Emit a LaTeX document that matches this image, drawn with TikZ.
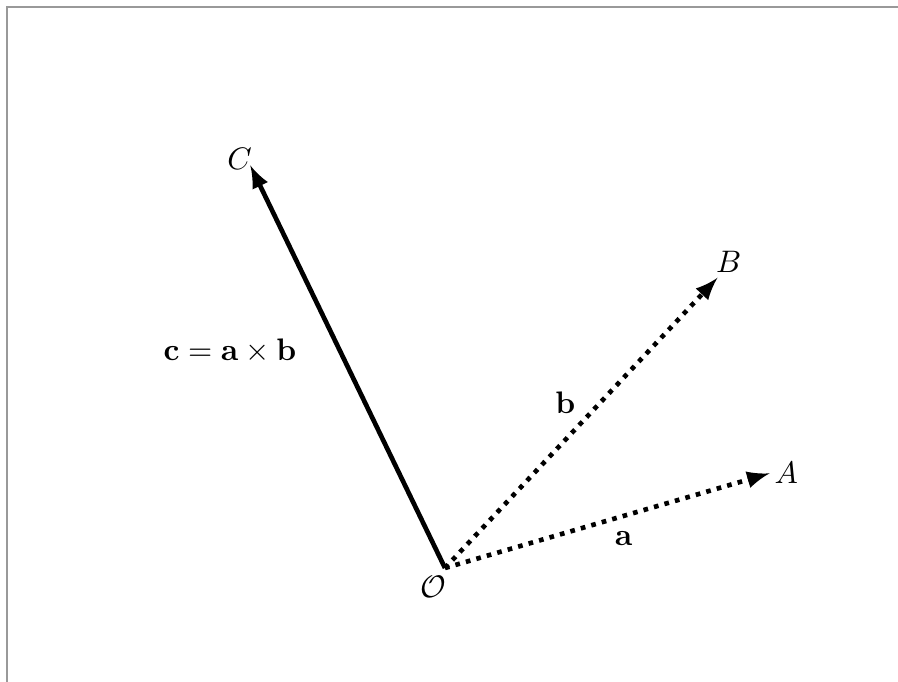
\documentclass[tikz,border=0pt]{standalone}
\usepackage{amsmath,amssymb}
\usetikzlibrary{arrows,positioning}
\begin{document}
\begin{tikzpicture}[
    vec/.style={line width=1.5pt, -latex},
    dotvec/.style={line width=1.5pt, dotted, -latex}
]
    \useasboundingbox (-5.028,-1.288) rectangle (5.119,6.418);
    % frame edges
    \draw[gray!80, line width=0.4pt] (-4.95,-1.288) -- (-4.95,6.34) -- (5.119,6.34);

    \coordinate (o) at (0,0);
    \coordinate (a) at (3.67,1.07);
    \coordinate (b) at (3.08,3.28);
    \coordinate (c) at (-2.20,4.55);

    \node[below left=-1pt and -4pt of o] (O) {$\mathcal{O}$};
    \node[right=-2pt of a] (A) {$A$};
    \node[above right=-2pt and -4pt of b] (B) {$B$};
    \node[above left=-5pt and -4pt of c] (C) {$C$};

    \draw[dotvec] (o) -- (a) node[pos=0.55, below=1pt] (la) {$\mathbf{a}$};
    \draw[dotvec] (o) -- (b) node[pos=0.57, left=4pt] (lb) {$\mathbf{b}$};
    \draw[vec] (o) -- (c) node[pos=0.54, left=0.35cm] (lc) {$\mathbf{c}=\mathbf{a}\times\mathbf{b}$};
\end{tikzpicture}
\end{document}
